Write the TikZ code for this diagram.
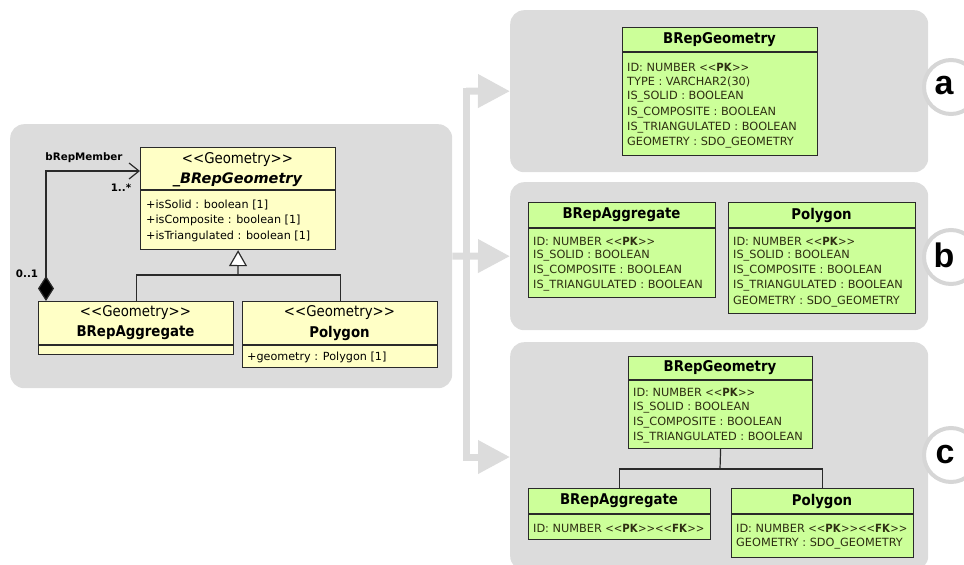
\documentclass[tikz,border=0pt]{standalone}
\usepackage{fontspec}
\setmainfont{DejaVu Sans Condensed}
\newfontfamily\widefont{DejaVu Sans}
\newfontfamily\letterfont{Liberation Sans}
\usetikzlibrary{arrows.meta,calc}
\definecolor{panelgray}{HTML}{DCDCDC}
\definecolor{ringgray}{HTML}{D6D6D6}
\definecolor{umlyellow}{HTML}{FFFFC6}
\definecolor{tblgreen}{HTML}{CCFF99}
\definecolor{rowtxt}{HTML}{2E2E12}
\definecolor{edge}{HTML}{2A2A2A}
\newcommand\ltlt{<\kern0pt<}
\newcommand\gtgt{>\kern0pt>}
\newcommand\keytag[1]{{\rmfamily\ltlt\textbf{#1}\gtgt}}
\begin{document}
\begin{tikzpicture}[x=1pt,y=-1pt,
  panel/.style={fill=panelgray,draw=none,rounded corners=14pt,anchor=north west,inner sep=0pt},
  umlbox/.style={draw=edge,fill=umlyellow,line width=1.2pt,anchor=north west,inner sep=0pt},
  tbl/.style={draw=edge,fill=tblgreen,line width=1.2pt,anchor=north west,inner sep=0pt},
  sepline/.style={draw=edge,line width=1.2pt},
  conn/.style={draw=edge,line width=1.2pt},
  row/.style={anchor=west,inner sep=0pt,text=rowtxt,font=\widefont\fontsize{11.3}{12}\selectfont},
  attr/.style={anchor=west,inner sep=0pt,text=black,font=\widefont\fontsize{11.2}{12}\selectfont},
  head/.style={inner sep=0pt,font=\bfseries\fontsize{14.8}{16}\selectfont},
  stereo/.style={inner sep=0pt,font=\fontsize{14.8}{16}\selectfont},
  small/.style={inner sep=0pt,font=\widefont\bfseries\fontsize{10.3}{11}\selectfont},
  fat/.style={draw=panelgray,line width=7pt},
  fatarrow/.style={draw=panelgray,line width=7pt,-{Triangle[length=32pt,width=32pt]}},
  ring/.style={circle,draw=ringgray,line width=4pt,fill=white,minimum size=54pt,inner sep=0pt},
  letter/.style={inner sep=0pt,font=\letterfont\bfseries\fontsize{34}{36}\selectfont}
]
\useasboundingbox (0,0) rectangle (964,565);
% panels
\node[panel,minimum width=442pt,minimum height=264pt] (pL) at (10,124) {};
\node[panel,minimum width=418pt,minimum height=162pt] (pA) at (510,10) {};
\node[panel,minimum width=418pt,minimum height=148pt] (pB) at (510,182) {};
\node[panel,minimum width=418pt,minimum height=228pt] (pC) at (510,342) {};
% fat arrows
\coordinate (barT) at (466,91);
\coordinate (barM) at (466,256);
\coordinate (barB) at (466,457);
\draw[fat] (pL.east) -- (barM);
\draw[fat] ([yshift=3.5pt]barT) -- ([yshift=-3.5pt]barB);
\draw[fatarrow] (barT) -- (pA.west);
\draw[fatarrow] (barM) -- (pB.west);
\draw[fatarrow] (barB) -- (pA.west |- barB);
% letter circles
\node[ring] (cA) at (951,87) {};
\node[letter] (lA) at (944,86) {a};
\node[ring] (cB) at (951,257) {};
\node[letter] (lB) at (944,255) {b};
\node[ring] (cC) at (951,455) {};
\node[letter] (lC) at (945,455) {c};

% ---------- UML ----------
\node[umlbox,minimum width=195pt,minimum height=102pt] (uG) at (140,147) {};
\draw[sepline] (140,190) -- (335,190);
\node[stereo] (uGs) at (237.5,160) {\ltlt Geometry\gtgt};
\node[head,font=\widefont\bfseries\itshape\fontsize{14.5}{16}\selectfont] (uGn) at (237.5,180) {\_BRepGeometry};
\node[attr] (uG1) at (146,205) {+isSolid : boolean [1]};
\node[attr] (uG2) at (146,220) {+isComposite : boolean [1]};
\node[attr] (uG3) at (146,236) {+isTriangulated : boolean [1]};

\node[umlbox,minimum width=195pt,minimum height=53pt] (uA) at (38,301) {};
\draw[sepline] (38,345) -- (233,345);
\node[stereo] (uAs) at (135.5,313) {\ltlt Geometry\gtgt};
\node[head] (uAn) at (135.5,333) {BRepAggregate};

\node[umlbox,minimum width=195pt,minimum height=66pt] (uP) at (242,301) {};
\draw[sepline] (242,345) -- (437,345);
\node[stereo] (uPs) at (339.5,313) {\ltlt Geometry\gtgt};
\node[head] (uPn) at (339.5,333) {Polygon};
\node[attr] (uP1) at (247,357) {+geometry : Polygon [1]};

% generalization
\coordinate (junc) at (238,275);
\draw[conn] (uA.north) |- (junc) -| (uP.north);
\draw[conn,-{Triangle[open,length=16pt,width=18pt,fill=white]}] (junc) -- (uG.south);
% association
\coordinate (assocY) at (0,171);
\draw[conn,{Diamond[length=25pt,width=16pt,fill=black]}-{Straight Barb[length=10pt,width=16pt]}]
  ([xshift=8pt]uA.north west) |- (uG.west |- assocY);
\node[small] (lbl1) at (84,158) {bRepMember};
\node[small] (lbl2) at (121,188) {1..*};
\node[small] (lbl3) at (27,274) {0..1};

% ---------- table a ----------
\node[tbl,minimum width=195pt,minimum height=128pt] (ta) at (622,27) {};
\draw[sepline] (622,52) -- (817,52);
\node[head] (taH) at (719.5,39.5) {BRepGeometry};
\node[row] (ta1) at (627,67) {ID: NUMBER \keytag{PK}};
\node[row] (ta2) at (627,82) {TYPE : VARCHAR2(30)};
\node[row] (ta3) at (627,97) {IS\_SOLID : BOOLEAN};
\node[row] (ta4) at (627,112.5) {IS\_COMPOSITE : BOOLEAN};
\node[row] (ta5) at (627,127.5) {IS\_TRIANGULATED : BOOLEAN};
\node[row] (ta6) at (627,143) {GEOMETRY : SDO\_GEOMETRY};

% ---------- table b ----------
\node[tbl,minimum width=187pt,minimum height=95pt] (tb1) at (528,202) {};
\draw[sepline] (528,228) -- (715,228);
\node[head] (tb1H) at (621.5,215) {BRepAggregate};
\node[row] (tb11) at (533,241) {ID: NUMBER \keytag{PK}};
\node[row] (tb12) at (533,256) {IS\_SOLID : BOOLEAN};
\node[row] (tb13) at (533,271) {IS\_COMPOSITE : BOOLEAN};
\node[row] (tb14) at (533,286) {IS\_TRIANGULATED : BOOLEAN};

\node[tbl,minimum width=187pt,minimum height=111pt] (tb2) at (728,202) {};
\draw[sepline] (728,228) -- (915,228);
\node[head] (tb2H) at (821.5,215) {Polygon};
\node[row] (tb21) at (733,241) {ID: NUMBER \keytag{PK}};
\node[row] (tb22) at (733,256) {IS\_SOLID : BOOLEAN};
\node[row] (tb23) at (733,271) {IS\_COMPOSITE : BOOLEAN};
\node[row] (tb24) at (733,286) {IS\_TRIANGULATED : BOOLEAN};
\node[row] (tb25) at (733,301.5) {GEOMETRY : SDO\_GEOMETRY};

% ---------- table c ----------
\node[tbl,minimum width=184pt,minimum height=92pt] (tc0) at (628,356) {};
\draw[sepline] (628,380) -- (812,380);
\node[head] (tc0H) at (720,368) {BRepGeometry};
\node[row] (tc01) at (633,392) {ID: NUMBER \keytag{PK}};
\node[row] (tc02) at (633,407.5) {IS\_SOLID : BOOLEAN};
\node[row] (tc03) at (633,423) {IS\_COMPOSITE : BOOLEAN};
\node[row] (tc04) at (633,438) {IS\_TRIANGULATED : BOOLEAN};

\node[tbl,minimum width=182pt,minimum height=51pt] (tc1) at (528,488) {};
\draw[sepline] (528,514) -- (710,514);
\node[head] (tc1H) at (619,501) {BRepAggregate};
\node[row] (tc11) at (533,528) {ID: NUMBER \keytag{PK}\keytag{FK}};

\node[tbl,minimum width=182pt,minimum height=69pt] (tc2) at (731,488) {};
\draw[sepline] (731,514) -- (913,514);
\node[head] (tc2H) at (822,501) {Polygon};
\node[row] (tc21) at (736,528) {ID: NUMBER \keytag{PK}\keytag{FK}};
\node[row] (tc22) at (736,544) {GEOMETRY : SDO\_GEOMETRY};

\coordinate (tjunc) at (720,469);
\draw[conn] (tc0.south) -- (tjunc);
\draw[conn] (tc1.north) |- (tjunc) -| (tc2.north);
\end{tikzpicture}
\end{document}
